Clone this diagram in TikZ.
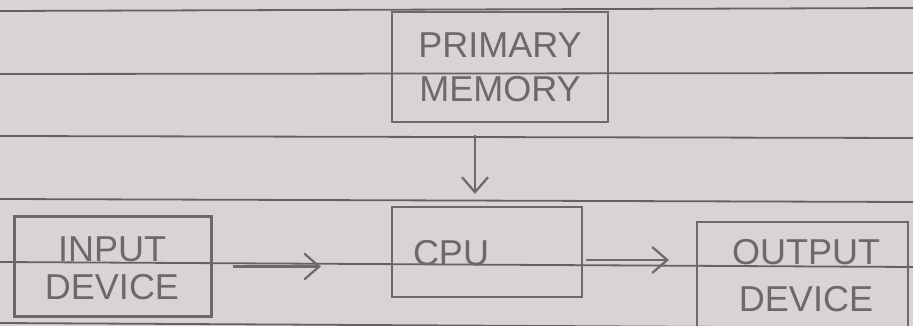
\documentclass[tikz,border=0pt]{standalone}
\usepackage{fontspec}
\setmainfont{Liberation Sans}
\usetikzlibrary{arrows.meta}
\definecolor{paper}{HTML}{DAD3D4}
\definecolor{rule}{HTML}{656062}
\definecolor{pencil}{HTML}{6F6769}
\tikzset{
  box/.style={draw=pencil, line width=2.2pt, rectangle, inner sep=0pt, text=pencil, align=center},
  lbl/.style={text=pencil, inner sep=0pt, align=center},
  arr/.style={draw=pencil, line width=2.2pt, -{Straight Barb[length=15pt,width=26pt,line width=2.2pt]}},
  ruled/.style={draw=rule, line width=1.8pt}
}
\begin{document}
\begin{tikzpicture}[x=1pt,y=-1pt]
\useasboundingbox (0,0) rectangle (913,326);
\fill[paper] (0,0) rectangle (913,326);
% ruled paper lines
\draw[ruled] (0,11) -- (913,8);
\draw[ruled] (0,74) -- (913,73);
\draw[ruled] (0,136) -- (913,138);
\draw[ruled] (0,199) -- (913,202);
\draw[ruled] (0,262) -- (913,267);
\draw[ruled] (0,323) -- (913,328);
% boxes
\node[box, minimum width=216pt, minimum height=110pt, font={\fontsize{36}{44}\selectfont}]
  (mem) at (500,67) {PRIMARY\\MEMORY};
\node[box, minimum width=197pt, minimum height=100pt] (in) at (113,266.5) {};
\node[lbl, font={\fontsize{36}{38}\selectfont}] (intext) at (112,268) {INPUT\\DEVICE};
\node[box, minimum width=190pt, minimum height=90pt] (cpu) at (487,252) {};
\node[lbl, font={\fontsize{36}{44}\selectfont}] (cputext) at (451,253) {CPU};
\node[box, minimum width=211pt, minimum height=118pt] (out) at (802.5,281) {};
\node[lbl, font={\fontsize{36}{47}\selectfont}] (outtext) at (806,276) {OUTPUT\\DEVICE};
% connectors
\draw[arr, shorten <=12pt, shorten >=12pt] ([xshift=-25pt]mem.south) -- ([xshift=-25pt]mem.south |- cpu.north);
\draw[arr, shorten <=20pt, shorten >=70pt] (in.east) -- (in.east -| cpu.west);
\draw[arr, shorten <=3pt, shorten >=27pt] ([yshift=-8pt]cpu.east) -- ([yshift=-8pt]cpu.east -| out.west);
\end{tikzpicture}
\end{document}
